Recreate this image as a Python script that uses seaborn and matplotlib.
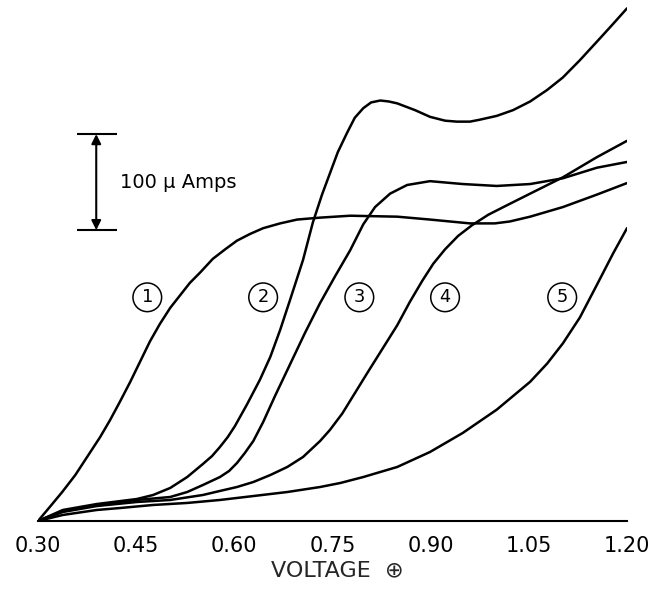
import matplotlib
matplotlib.use('Agg')
import matplotlib.pyplot as plt
import seaborn as sns
import pandas as pd

# curves: voltage (V) vs current (micro amps)
v1 = [0.300, 0.318, 0.337, 0.357, 0.376, 0.395, 0.410, 0.425, 0.441, 0.456, 0.471,
      0.486, 0.502, 0.517, 0.532, 0.548, 0.567, 0.586, 0.604, 0.624, 0.644, 0.670,
      0.696, 0.731, 0.777, 0.849, 0.899, 0.960, 0.998, 1.021, 1.052, 1.102, 1.154, 1.200]
i1 = [0, 14.6, 30.2, 47.9, 67.7, 87.5, 105, 124, 145, 166, 187,
      205, 222, 235, 248, 259, 273, 283, 292, 299, 305, 310,
      314, 316, 318, 317, 314, 310, 310, 312, 317, 327, 340, 352]

v2 = [0.300, 0.338, 0.390, 0.451, 0.476, 0.502, 0.528, 0.552, 0.566, 0.578, 0.590,
      0.601, 0.619, 0.639, 0.655, 0.670, 0.685, 0.705, 0.720, 0.734, 0.746, 0.758,
      0.772, 0.784, 0.797, 0.809, 0.823, 0.836, 0.849, 0.876, 0.899, 0.922, 0.940,
      0.960, 0.975, 1.001, 1.026, 1.052, 1.078, 1.102, 1.128, 1.159, 1.179, 1.200]
i2 = [0, 11.5, 17.7, 22.9, 27.1, 34.4, 45.8, 59.4, 67.7, 77.1, 87.5,
      99, 121, 147, 171, 199, 230, 272, 311, 340, 362, 384,
      404, 420, 430, 436, 438, 437, 435, 428, 421, 417, 416,
      416, 418, 422, 428, 437, 449, 462, 480, 503, 518, 534]

v3 = [0.300, 0.338, 0.390, 0.451, 0.502, 0.528, 0.552, 0.578, 0.592, 0.604, 0.616,
      0.629, 0.644, 0.662, 0.685, 0.708, 0.731, 0.754, 0.777, 0.797, 0.815, 0.838,
      0.864, 0.899, 0.949, 1.001, 1.052, 1.102, 1.154, 1.200]
i3 = [0, 10.4, 16.7, 21.9, 25, 30.2, 37.5, 45.8, 52.1, 60.4, 70.8,
      83.3, 103, 130, 163, 196, 227, 255, 282, 309, 327, 341,
      350, 354, 351, 349, 351, 357, 368, 374]

v4 = [0.300, 0.338, 0.390, 0.451, 0.502, 0.552, 0.578, 0.604, 0.629, 0.655, 0.681,
      0.705, 0.731, 0.746, 0.765, 0.784, 0.803, 0.826, 0.849, 0.868, 0.887, 0.904,
      0.922, 0.942, 0.963, 0.988, 1.014, 1.052, 1.102, 1.154, 1.200]
i4 = [0, 9.4, 15.6, 19.8, 21.9, 27.1, 31.3, 35.4, 40.6, 47.9, 56.3,
      66.7, 83.3, 94.8, 112, 133, 154, 179, 204, 228, 250, 268,
      283, 297, 308, 319, 328, 341, 358, 379, 396]

v5 = [0.300, 0.338, 0.390, 0.425, 0.476, 0.528, 0.578, 0.629, 0.681, 0.731, 0.762,
      0.797, 0.849, 0.899, 0.949, 1.001, 1.052, 1.078, 1.102, 1.128, 1.154, 1.179, 1.200]
i5 = [0, 6.3, 11.5, 13.5, 16.7, 18.8, 21.9, 26, 30.2, 35.4, 39.6,
      45.8, 56.3, 71.9, 91.7, 116, 145, 164, 185, 212, 246, 279, 305]

curve_names = ['1', '2', '3', '4', '5']
label_x = [0.467, 0.644, 0.791, 0.922, 1.101]
label_y = [233, 233, 233, 233, 233]

tick_vals = [0.30, 0.45, 0.60, 0.75, 0.90, 1.05, 1.20]
tick_labels = ['0.30', '0.45', '0.60', '0.75', '0.90', '1.05', '1.20']

# 100 micro amp scale bar
bar_x = 0.389
bar_lo, bar_hi = 303, 403

df = pd.concat([pd.DataFrame({'volts': v, 'uA': i, 'curve': n})
                for v, i, n in zip([v1, v2, v3, v4, v5], [i1, i2, i3, i4, i5], curve_names)])

sns.set_style('white', {'axes.edgecolor': 'black', 'text.color': 'black',
                        'xtick.color': 'black'})
plt.rcParams['font.family'] = ['DejaVu Sans']

fig = plt.figure(figsize=(6.51, 5.91), dpi=100)
ax = fig.add_axes([38 / 651, 70 / 591, 589 / 651, 521 / 591])

sns.lineplot(data=df, x='volts', y='uA', units='curve', estimator=None, sort=False,
             color='black', lw=1.8, ax=ax, legend=False)
for line in ax.lines:
    line.set_solid_joinstyle('round')

for n, x, y in zip(curve_names, label_x, label_y):
    ax.text(x, y, n, fontsize=12.8, ha='center', va='center',
            bbox=dict(boxstyle='circle,pad=0.3', fc='white', ec='black', lw=1.1))

# scale bar
ax.annotate('', xy=(bar_x, bar_hi), xytext=(bar_x, bar_lo),
            arrowprops=dict(arrowstyle='<|-|>', color='black', lw=1.5,
                            mutation_scale=14, shrinkA=0, shrinkB=0))
ax.hlines([bar_lo, bar_hi], 0.360, 0.421, color='black', lw=1.5)
ax.text(0.425, (bar_lo + bar_hi) / 2, '100 μ Amps', fontsize=14, ha='left', va='center')

ax.set_xlim(0.30, 1.20)
ax.set_ylim(0, 542.7)
sns.despine(ax=ax, left=True)
ax.spines['bottom'].set_linewidth(1.5)
ax.set_yticks([])
ax.set_ylabel('')
ax.set_xticks(tick_vals)
ax.set_xticklabels(tick_labels, fontsize=15)
ax.tick_params(axis='x', direction='in', length=13.5, width=1.5, pad=11)
ax.set_xlabel('VOLTAGE  ⊕', fontsize=16)
ax.xaxis.set_label_coords(0.508, -0.075)

fig.savefig('out.png', dpi=100)
